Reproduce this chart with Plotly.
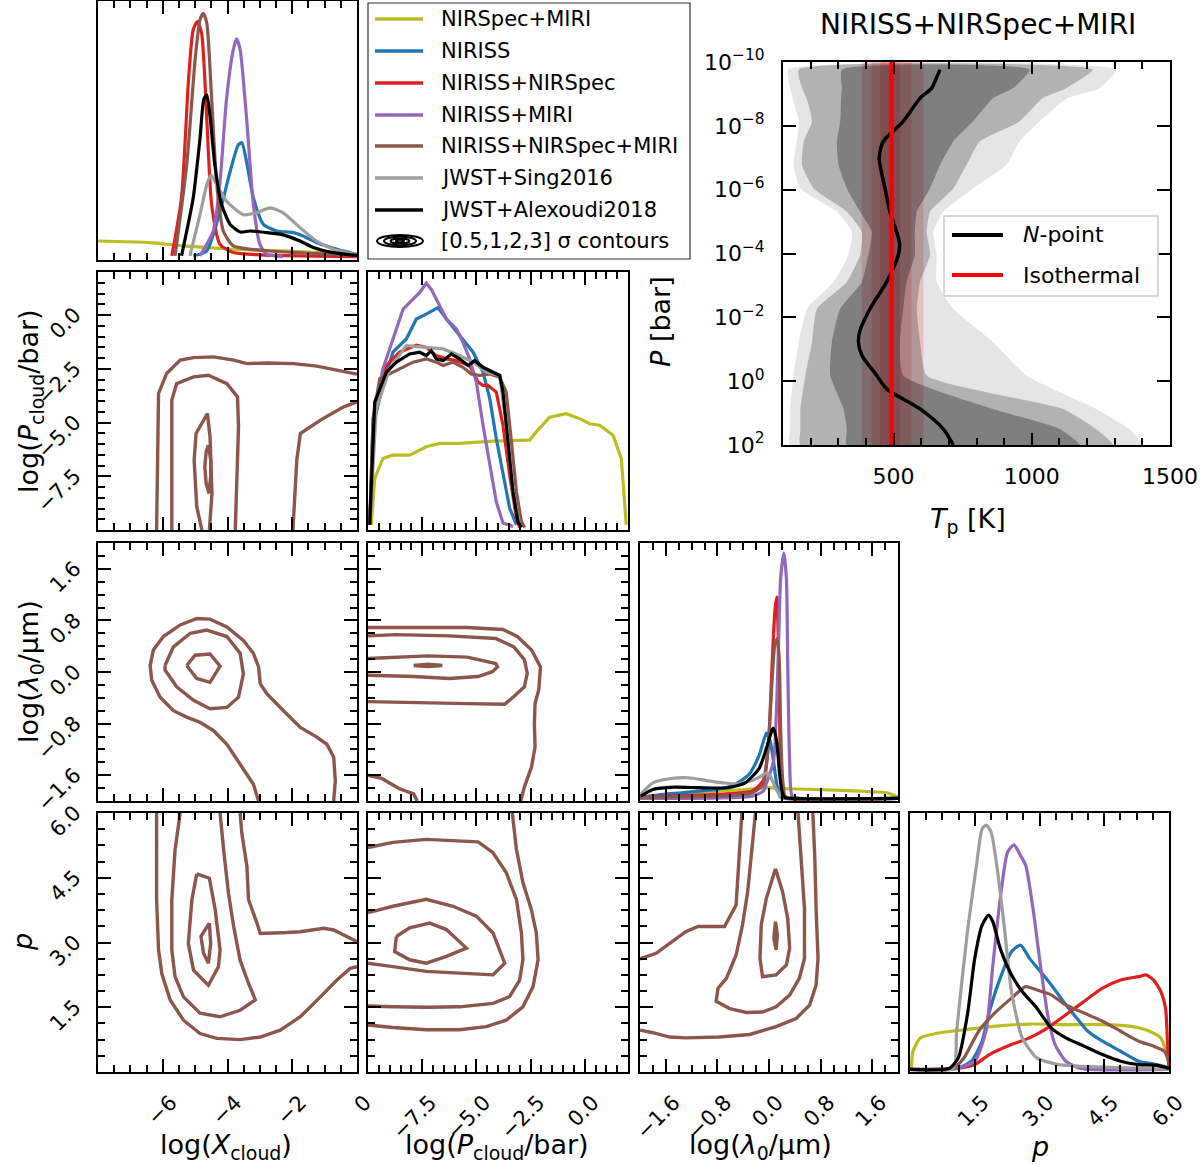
import numpy as np
import plotly.graph_objects as go

W, H = 1200, 1165
FONT = "DejaVu Sans"

SERIES = ["NIRSpec+MIRI", "NIRISS", "NIRISS+NIRSpec", "NIRISS+MIRI",
          "NIRISS+NIRSpec+MIRI", "JWST+Sing2016", "JWST+Alexoudi2018"]
COLORS = ["#bcbd22", "#1f77b4", "#e0201f", "#9467bd", "#8c564b", "#9e9e9e", "#000000"]
BROWN = "#8c564b"

# ---------------- 1D marginal posteriors (height relative to panel height) -------------
HIST_XCLOUD = {
    "NIRSpec+MIRI": ([-8.0, -6.39, -5.36, -3.82, -1.76, 0.0],
                     [0.064, 0.058, 0.045, 0.032, 0.023, 0.010]),
    "NIRISS": ([-5.06, -4.64, -4.23, -3.92, -3.67, -3.56, -3.41, -3.20, -2.89, -2.48, -1.97, -1.66, -1.25, -0.73, 0.0],
               [0.006, 0.026, 0.180, 0.335, 0.438, 0.448, 0.373, 0.232, 0.129, 0.103, 0.097, 0.084, 0.058, 0.036, 0.012]),
    "NIRISS+NIRSpec": ([-5.72, -5.42, -5.21, -5.06, -4.93, -4.80, -4.64, -4.49, -4.23, -3.82, -3.00, -1.76, 0.0],
                       [0.006, 0.232, 0.682, 0.888, 0.920, 0.875, 0.541, 0.206, 0.051, 0.019, 0.010, 0.006, 0.003]),
    "NIRISS+MIRI": ([-4.85, -4.44, -4.23, -4.03, -3.82, -3.72, -3.61, -3.41, -3.20, -3.00, -2.79, -2.28],
                    [0.006, 0.103, 0.296, 0.618, 0.811, 0.852, 0.811, 0.541, 0.206, 0.051, 0.013, 0.003]),
    "NIRISS+NIRSpec+MIRI": ([-5.62, -5.26, -5.00, -4.85, -4.75, -4.64, -4.49, -4.33, -4.13, -3.82, -2.79, -1.25, 0.0],
                            [0.006, 0.360, 0.772, 0.927, 0.952, 0.914, 0.618, 0.283, 0.103, 0.045, 0.026, 0.015, 0.008]),
    "JWST+Sing2016": ([-5.16, -4.85, -4.64, -4.51, -4.33, -4.03, -3.51, -3.10, -2.69, -2.28, -1.76, -1.25, -0.73, 0.0],
                      [0.006, 0.167, 0.283, 0.322, 0.283, 0.219, 0.167, 0.174, 0.193, 0.174, 0.116, 0.064, 0.032, 0.010]),
    "JWST+Alexoudi2018": ([-5.42, -5.06, -4.85, -4.73, -4.64, -4.54, -4.39, -4.18, -3.92, -3.61, -3.31, -2.79, -2.28, -1.76, -1.35, -0.73, 0.0],
                          [0.006, 0.232, 0.463, 0.618, 0.633, 0.553, 0.360, 0.206, 0.129, 0.099, 0.103, 0.097, 0.088, 0.064, 0.039, 0.019, 0.008]),
}

HIST_PCLOUD = {
    "NIRSpec+MIRI": ([-9.85, -9.69, -9.31, -8.85, -8.08, -7.31, -6.69, -5.77, -4.23, -2.54, -2.23, -1.62, -0.85, -0.23, 0.23, 0.69, 1.31, 1.69, 1.92],
                     [0.010, 0.192, 0.270, 0.283, 0.283, 0.316, 0.329, 0.329, 0.338, 0.342, 0.374, 0.432, 0.445, 0.426, 0.406, 0.400, 0.361, 0.270, 0.010]),
    "NIRISS": ([-9.92, -9.77, -9.31, -8.85, -8.23, -7.77, -7.31, -6.77, -6.38, -5.77, -5.15, -4.69, -4.38, -4.08, -3.77, -3.46, -3.15],
               [0.010, 0.400, 0.556, 0.686, 0.738, 0.816, 0.835, 0.861, 0.816, 0.751, 0.686, 0.608, 0.504, 0.348, 0.205, 0.075, 0.010]),
    "NIRISS+NIRSpec": ([-9.92, -9.69, -9.15, -8.54, -7.77, -7.31, -6.85, -6.38, -5.92, -5.31, -4.92, -4.69, -4.46, -4.15, -4.08, -3.77, -3.46, -3.15, -3.0],
                       [0.010, 0.465, 0.634, 0.686, 0.714, 0.705, 0.673, 0.660, 0.653, 0.634, 0.569, 0.556, 0.556, 0.536, 0.530, 0.400, 0.205, 0.036, 0.0]),
    "NIRISS+MIRI": ([-9.92, -9.69, -9.31, -8.38, -7.92, -7.62, -7.31, -7.08, -6.69, -6.38, -5.92, -5.62, -5.31, -5.0, -4.69, -4.38, -4.08, -3.77, -3.31],
                    [0.010, 0.465, 0.621, 0.855, 0.894, 0.919, 0.956, 0.932, 0.868, 0.816, 0.777, 0.725, 0.660, 0.569, 0.400, 0.244, 0.101, 0.017, 0.004]),
    "NIRISS+NIRSpec+MIRI": ([-9.92, -9.77, -9.46, -9.0, -8.54, -7.92, -7.31, -6.85, -6.54, -6.08, -5.62, -5.23, -4.85, -4.38, -3.92, -3.62, -3.38, -3.15, -2.92, -2.77],
                            [0.010, 0.426, 0.582, 0.601, 0.621, 0.647, 0.660, 0.647, 0.634, 0.647, 0.627, 0.601, 0.595, 0.601, 0.588, 0.530, 0.335, 0.140, 0.023, 0.0]),
    "JWST+Sing2016": ([-9.92, -9.62, -9.0, -8.23, -7.31, -6.54, -5.77, -5.15, -4.54, -3.92, -3.62, -3.31, -3.0],
                      [0.010, 0.465, 0.621, 0.712, 0.705, 0.699, 0.673, 0.647, 0.608, 0.595, 0.400, 0.140, 0.010]),
    "JWST+Alexoudi2018": ([-9.92, -9.69, -9.15, -8.69, -8.08, -7.62, -7.31, -7.08, -6.85, -6.54, -6.15, -5.77, -5.38, -5.08, -4.69, -4.23, -3.92, -3.77, -3.54, -3.31, -3.08, -2.92],
                          [0.010, 0.491, 0.608, 0.647, 0.679, 0.686, 0.673, 0.692, 0.660, 0.653, 0.679, 0.660, 0.634, 0.653, 0.627, 0.608, 0.595, 0.530, 0.335, 0.140, 0.023, 0.0]),
}

HIST_LAMBDA = {
    "NIRSpec+MIRI": ([-1.99, -1.36, -0.81, -0.37, -0.04, 0.29, 0.84, 1.39, 1.83, 1.97, 2.0],
                     [0.005, 0.016, 0.029, 0.035, 0.042, 0.038, 0.034, 0.029, 0.022, 0.009, 0.005]),
    "NIRISS": ([-1.99, -1.63, -1.36, -1.08, -0.81, -0.53, -0.31, -0.15, -0.04, 0.02, 0.07, 0.13, 0.18, 0.25, 2.0],
               [0.005, 0.016, 0.022, 0.029, 0.035, 0.055, 0.094, 0.171, 0.256, 0.223, 0.145, 0.042, 0.005, 0.0, 0.0]),
    "NIRISS+NIRSpec": ([-2.0, -0.81, -0.26, -0.09, -0.01, 0.05, 0.09, 0.12, 0.14, 0.16, 0.18, 0.23, 0.30, 2.0],
                       [0.005, 0.016, 0.029, 0.070, 0.210, 0.535, 0.730, 0.788, 0.665, 0.405, 0.145, 0.016, 0.0, 0.0]),
    "NIRISS+MIRI": ([-2.0, -0.26, -0.09, -0.04, 0.07, 0.14, 0.18, 0.23, 0.27, 0.29, 0.32, 0.36, 0.50, 2.0],
                    [0.0, 0.009, 0.029, 0.060, 0.145, 0.535, 0.860, 0.961, 0.860, 0.535, 0.145, 0.009, 0.0, 0.0]),
    "NIRISS+NIRSpec+MIRI": ([-2.0, -0.81, -0.26, -0.09, -0.01, 0.05, 0.09, 0.13, 0.16, 0.18, 0.21, 0.25, 0.35, 2.0],
                            [0.005, 0.009, 0.022, 0.055, 0.210, 0.470, 0.600, 0.626, 0.535, 0.275, 0.081, 0.009, 0.0, 0.0]),
    "JWST+Sing2016": ([-1.99, -1.80, -1.52, -1.25, -0.97, -0.70, -0.48, -0.26, -0.12, -0.04, 0.02, 0.10, 0.16, 0.21, 0.30, 2.0],
                      [0.016, 0.061, 0.078, 0.081, 0.070, 0.061, 0.057, 0.070, 0.087, 0.100, 0.087, 0.042, 0.016, 0.005, 0.0, 0.0]),
    "JWST+Alexoudi2018": ([-1.99, -1.80, -1.47, -1.08, -0.64, -0.37, -0.15, -0.04, 0.05, 0.07, 0.12, 0.16, 0.20, 0.24, 0.35, 2.0],
                          [0.009, 0.035, 0.044, 0.042, 0.042, 0.061, 0.119, 0.197, 0.269, 0.275, 0.223, 0.106, 0.029, 0.005, 0.0, 0.0]),
}

HIST_P = {
    "NIRSpec+MIRI": ([0.03, 0.07, 0.24, 0.66, 1.08, 1.92, 2.77, 3.61, 4.46, 5.13, 5.55, 5.81, 5.93, 6.0],
                     [0.004, 0.071, 0.123, 0.142, 0.151, 0.168, 0.177, 0.175, 0.175, 0.168, 0.149, 0.123, 0.071, 0.019]),
    "NIRISS": ([0.0, 1.08, 1.42, 1.67, 1.84, 2.09, 2.35, 2.56, 2.77, 3.02, 3.27, 3.61, 3.86, 4.12, 4.46, 4.88, 5.30, 5.72, 6.0],
               [0.0, 0.004, 0.032, 0.110, 0.226, 0.356, 0.459, 0.485, 0.433, 0.382, 0.330, 0.252, 0.201, 0.149, 0.110, 0.071, 0.032, 0.019, 0.006]),
    "NIRISS+NIRSpec": ([0.0, 1.08, 1.50, 1.84, 2.35, 2.77, 3.19, 3.61, 4.03, 4.46, 4.88, 5.30, 5.47, 5.64, 5.81, 5.92, 5.97, 6.0],
                       [0.0, 0.004, 0.019, 0.058, 0.097, 0.123, 0.162, 0.213, 0.265, 0.317, 0.349, 0.362, 0.369, 0.349, 0.304, 0.239, 0.084, 0.004]),
    "NIRISS+MIRI": ([0.0, 1.08, 1.50, 1.76, 1.92, 2.09, 2.26, 2.41, 2.56, 2.68, 2.85, 3.02, 3.19, 3.36, 3.61, 3.95, 6.0],
                    [0.0, 0.004, 0.032, 0.149, 0.408, 0.666, 0.847, 0.876, 0.834, 0.796, 0.627, 0.408, 0.213, 0.097, 0.032, 0.004, 0.0]),
    "NIRISS+NIRSpec+MIRI": ([0.0, 0.99, 1.25, 1.59, 1.92, 2.35, 2.68, 2.94, 3.27, 3.61, 4.03, 4.46, 4.88, 5.30, 5.64, 5.89, 6.0],
                            [0.0, 0.004, 0.045, 0.149, 0.213, 0.278, 0.323, 0.310, 0.291, 0.252, 0.220, 0.188, 0.149, 0.110, 0.091, 0.071, 0.032]),
    "JWST+Sing2016": ([0.0, 1.0, 1.08, 1.33, 1.54, 1.67, 1.77, 1.88, 2.01, 2.18, 2.35, 2.60, 2.94, 3.44, 4.46, 6.0],
                      [0.0, 0.004, 0.149, 0.537, 0.796, 0.938, 0.953, 0.925, 0.796, 0.563, 0.304, 0.123, 0.045, 0.019, 0.009, 0.0]),
    "JWST+Alexoudi2018": ([0.0, 0.91, 1.12, 1.33, 1.50, 1.67, 1.82, 1.92, 2.09, 2.35, 2.60, 2.94, 3.27, 3.61, 4.03, 4.46, 4.88, 5.30, 5.72, 6.0],
                          [0.0, 0.004, 0.045, 0.213, 0.433, 0.563, 0.602, 0.576, 0.472, 0.369, 0.304, 0.239, 0.162, 0.123, 0.091, 0.058, 0.032, 0.019, 0.016, 0.004]),
}

# ---------------- 2D contours ([0.5,1,2,3] sigma) of NIRISS+NIRSpec+MIRI ----------------
CONT_X_PC = [
    ([-6.19, -6.13, -5.88, -5.46, -5.05, -4.43, -3.81, -3.40, -2.78, -1.96, -1.24, -0.72, 0.0],
     [-10.0, -3.65, -2.72, -2.10, -1.98, -1.95, -2.10, -2.26, -2.23, -2.26, -2.38, -2.54, -2.75]),
    ([0.0, -0.41, -1.13, -1.75, -1.86, -1.91, -1.98],
     [-4.04, -4.27, -4.89, -5.51, -6.75, -8.30, -10.0]),
    ([-5.72, -5.72, -5.57, -5.05, -4.59, -4.02, -3.69, -3.66, -3.76],
     [-10.0, -3.96, -3.19, -2.88, -2.80, -3.19, -3.81, -5.20, -10.0]),
    ([-4.79, -4.95, -5.03, -4.97, -4.62, -4.54, -4.48, -4.56],
     [-10.0, -8.92, -6.75, -5.51, -4.58, -5.66, -8.30, -10.0]),
    ([-4.59, -4.52, -4.52, -4.57, -4.66, -4.70, -4.66, -4.59],
     [-6.05, -6.75, -7.52, -8.30, -7.83, -7.06, -6.36, -6.05]),
]
CONT_X_LAM = [
    ([-3.04, -3.20, -3.61, -4.02, -4.43, -4.85, -5.26, -5.67, -6.08, -6.34, -6.39, -6.29, -5.98, -5.46, -4.95,
      -4.54, -4.02, -3.51, -3.20, -3.04, -2.99, -2.78, -2.27, -1.75, -1.24, -0.93, -0.72, -0.67, -0.72],
     [-2.0, -1.74, -1.43, -1.12, -0.91, -0.78, -0.70, -0.60, -0.39, -0.13, 0.10, 0.34, 0.55, 0.73, 0.83,
      0.82, 0.70, 0.49, 0.29, 0.08, -0.18, -0.34, -0.60, -0.86, -1.01, -1.12, -1.32, -1.69, -2.0]),
    ([-5.93, -5.67, -5.15, -4.64, -4.02, -3.61, -3.51, -3.66, -4.02, -4.54, -5.05, -5.57, -5.93, -5.93],
     [0.10, 0.39, 0.60, 0.65, 0.55, 0.29, -0.03, -0.39, -0.55, -0.57, -0.44, -0.23, 0.03, 0.10]),
    ([-5.26, -5.0, -4.54, -4.23, -4.54, -4.95, -5.26],
     [0.10, 0.26, 0.28, 0.09, -0.16, -0.10, 0.10]),
]
CONT_PC_LAM = [
    ([-10.0, -8.71, -7.07, -5.42, -3.77, -3.11, -2.45, -2.04, -2.12, -2.29, -2.32, -2.29, -2.45, -2.78, -2.95],
     [0.69, 0.69, 0.69, 0.69, 0.66, 0.55, 0.34, 0.08, -0.28, -0.49, -0.80, -1.16, -1.47, -1.78, -2.0]),
    ([-10.0, -9.37, -8.55, -7.89, -7.73],
     [-1.60, -1.65, -1.81, -1.89, -2.0]),
    ([-10.0, -8.71, -6.24, -4.10, -3.27, -2.78, -2.65, -2.78, -3.27, -3.69, -5.42, -7.07, -8.71, -10.0],
     [0.56, 0.58, 0.56, 0.52, 0.39, 0.19, -0.02, -0.23, -0.38, -0.50, -0.49, -0.48, -0.46, -0.46]),
    ([-10.0, -8.71, -7.23, -5.42, -4.10, -4.02, -4.26, -4.92, -6.24, -7.89, -10.0],
     [0.21, 0.23, 0.25, 0.23, 0.13, 0.08, 0.005, -0.07, -0.10, -0.07, -0.05]),
    ([-7.89, -7.23, -6.57, -7.23, -7.89],
     [0.10, 0.12, 0.10, 0.085, 0.10]),
]
CONT_X_P = [
    ([-6.19, -6.19, -6.13, -6.03, -5.77, -5.36, -4.85, -4.33, -3.61, -2.99, -2.37, -1.75, -1.13, -0.62, -0.21, 0.0],
     [6.0, 3.99, 2.83, 2.28, 1.67, 1.20, 0.89, 0.78, 0.75, 0.81, 0.97, 1.28, 1.74, 2.13, 2.40, 2.44]),
    ([0.0, -0.31, -0.72, -1.03, -1.75, -2.16, -2.99, -3.09, -3.35, -3.40, -3.56, -3.61],
     [3.02, 3.14, 3.29, 3.33, 3.25, 3.23, 3.21, 3.45, 3.99, 4.76, 5.54, 6.0]),
    ([-5.46, -5.62, -5.72, -5.72, -5.62, -5.36, -4.85, -4.23, -3.61, -3.14, -3.35, -3.61, -3.81, -3.97, -4.12, -4.23],
     [6.0, 5.15, 3.99, 2.83, 2.21, 1.74, 1.36, 1.28, 1.43, 1.67, 2.05, 2.59, 3.37, 4.14, 5.15, 6.0]),
    ([-4.95, -4.56, -4.38, -4.23, -4.28, -4.59, -5.05, -5.21, -5.10, -4.95],
     [4.59, 4.49, 3.76, 2.83, 2.44, 2.01, 2.36, 2.98, 3.99, 4.59]),
    ([-4.56, -4.52, -4.59, -4.74, -4.82, -4.56],
     [3.45, 2.98, 2.52, 2.75, 3.14, 3.45]),
]
CONT_PC_P = [
    ([-3.34, -3.15, -2.85, -2.46, -2.23, -2.15, -2.38, -2.85, -3.62, -4.54, -5.77, -7.31, -8.85, -10.0],
     [6.0, 5.16, 4.39, 3.76, 3.22, 2.60, 1.98, 1.51, 1.20, 1.05, 0.98, 0.98, 1.03, 1.09]),
    ([-10.0, -8.85, -7.31, -5.77, -4.92, -4.23, -3.62, -3.15, -2.92, -2.85, -3.0, -3.46, -4.23, -5.77, -7.31, -8.85, -10.0],
     [5.20, 5.32, 5.39, 5.36, 5.33, 5.08, 4.62, 4.0, 3.22, 2.60, 2.13, 1.75, 1.59, 1.51, 1.50, 1.51, 1.53]),
    ([-10.0, -8.85, -7.31, -6.08, -5.0, -4.23, -3.69, -4.23, -5.77, -7.31, -8.85, -10.0],
     [3.69, 3.84, 4.0, 3.84, 3.61, 3.22, 2.52, 2.25, 2.29, 2.33, 2.44, 2.52]),
    ([-8.69, -8.08, -7.15, -6.38, -5.46, -6.38, -7.31, -8.08, -8.77, -8.69],
     [3.14, 3.34, 3.45, 3.30, 2.87, 2.68, 2.52, 2.60, 2.79, 3.14]),
]
CONT_LAM_P = [
    ([-2.0, -1.75, -1.54, -1.29, -1.10, -0.69, -0.51, -0.48, -0.46, -0.42],
     [2.62, 2.75, 2.98, 3.25, 3.37, 3.37, 3.87, 4.57, 5.34, 6.0]),
    ([0.68, 0.71, 0.73, 0.76, 0.73, 0.63, 0.42, 0.11, -0.30, -0.77, -1.29, -1.54, -1.80, -2.0],
     [6.0, 4.96, 3.79, 2.63, 2.01, 1.55, 1.24, 1.05, 0.87, 0.81, 0.79, 0.81, 0.91, 0.97]),
    ([-0.21, -0.25, -0.33, -0.41, -0.51, -0.66, -0.79, -0.82, -0.61, -0.35, -0.10, 0.11, 0.32, 0.47, 0.55, 0.55, 0.50, 0.45],
     [6.0, 5.34, 4.18, 3.41, 2.71, 2.17, 1.94, 1.64, 1.47, 1.38, 1.39, 1.51, 1.78, 2.17, 2.63, 3.79, 4.96, 6.0]),
    ([0.10, 0.21, 0.29, 0.32, 0.27, 0.11, -0.10, -0.14, -0.12, -0.04, 0.10],
     [4.71, 4.18, 3.56, 2.87, 2.48, 2.25, 2.21, 2.63, 3.41, 4.03, 4.71]),
    ([0.10, 0.13, 0.11, 0.075, 0.10],
     [3.48, 3.17, 2.83, 3.10, 3.48]),
]

# ---------------- P-T profile (NIRISS+NIRSpec+MIRI) ----------------
TP_LOGP = [-9.76, -9.18, -8.87, -8.14, -7.51, -6.77, -6.04, -5.31, -4.68, -3.95, -3.11, -2.27, -1.23, -0.18, 0.87, 1.50, 2.0]
TP_3S_LO = [120, 126, 135, 157, 150, 138, 163, 295, 349, 337, 283, 187, 157, 138, 126, 126, 126]
TP_2S_LO = [157, 169, 185, 205, 175, 169, 211, 331, 385, 379, 331, 223, 205, 181, 163, 163, 163]
TP_1S_LO = [313, 313, 310, 307, 295, 301, 331, 379, 421, 409, 385, 307, 277, 271, 319, 331, 331]
TP_1S_HI = [992, 932, 860, 788, 716, 668, 632, 584, 577, 577, 547, 535, 523, 535, 860, 1101, 1173]
TP_2S_HI = [1221, 1125, 1040, 956, 812, 764, 716, 632, 620, 632, 596, 584, 596, 620, 1113, 1233, 1293]
TP_3S_HI = [1305, 1245, 1130, 1028, 956, 908, 788, 680, 644, 656, 656, 716, 860, 980, 1233, 1353, 1401]
NPOINT_LOGP = [-9.76, -9.5, -9.18, -8.87, -8.14, -7.51, -7.0, -6.77, -6.04, -5.31, -4.68, -4.3, -3.95, -3.11,
               -2.27, -1.6, -1.23, -0.81, -0.18, 0.24, 0.87, 1.50, 2.0]
NPOINT_T = [668, 655, 638, 596, 535, 463, 448, 451, 469, 487, 511, 522, 517, 475,
            415, 379, 373, 385, 439, 475, 596, 680, 716]
ISO_T = 493
ISO_BANDS = [(385, 608), (421, 565), (451, 523)]
P_TOP, P_BOTTOM = 1e-10, 1e2

# ---------------- axis definitions ----------------
VAR_RANGE = [[-8, 0], [-10, 2], [-2, 2], [0, 6]]
VAR_TICKS = [[-6, -4, -2, 0], [-7.5, -5.0, -2.5, 0.0], [-1.6, -0.8, 0.0, 0.8, 1.6], [1.5, 3.0, 4.5, 6.0]]
VAR_TEXT = [["−6", "−4", "−2", "0"], ["−7.5", "−5.0", "−2.5", "0.0"],
            ["−1.6", "−0.8", "0.0", "0.8", "1.6"], ["1.5", "3.0", "4.5", "6.0"]]
VAR_MINOR = [0.5, 0.5, 0.2, 0.375]
HISTS = [HIST_XCLOUD, HIST_PCLOUD, HIST_LAMBDA, HIST_P]
CONTOURS = {(1, 0): CONT_X_PC, (2, 0): CONT_X_LAM, (2, 1): CONT_PC_LAM,
            (3, 0): CONT_X_P, (3, 1): CONT_PC_P, (3, 2): CONT_LAM_P}

# panel geometry (pixels)
COLS = [(98, 357), (368, 628), (640, 898), (910, 1169)]
ROWS = [(1, 260), (272, 530), (543, 801), (813, 1072)]
TP_X, TP_Y = (783, 1170), (62, 445)


def fx(px):
    return px / W


def fy(py):
    return 1 - py / H


TICKFONT = dict(family=FONT, size=21, color="black")
BASE = dict(showline=True, linewidth=2, linecolor="black", showgrid=False, zeroline=False,
            tickcolor="black", tickwidth=2, tickfont=TICKFONT, automargin=False)


def var_axis(v, show_labels, is_x):
    d = dict(BASE)
    d.update(range=VAR_RANGE[v], tickmode="array", tickvals=VAR_TICKS[v], ticktext=VAR_TEXT[v],
             ticks="inside", ticklen=13, mirror="allticks", showticklabels=show_labels, tickangle=-45,
             ticklabelstandoff=8 if is_x else 17, ticklabelshift=8 if is_x else -3,
             minor=dict(tickmode="linear", tick0=0, dtick=VAR_MINOR[v], ticks="inside", ticklen=7,
                        tickwidth=1.5, tickcolor="black", showgrid=False))
    return d


layout = {}
traces = []
count = 0

for r in range(4):
    for c in range(r + 1):
        count += 1
        xk = "xaxis" if count == 1 else f"xaxis{count}"
        yk = "yaxis" if count == 1 else f"yaxis{count}"
        xn = "x" if count == 1 else f"x{count}"
        yn = "y" if count == 1 else f"y{count}"
        xa = var_axis(c, r == 3, True)
        xa.update(domain=[fx(COLS[c][0]), fx(COLS[c][1])], anchor=yn)
        if r == c:
            ya = dict(BASE)
            ya.update(range=[-0.01, 1.0], ticks="", showticklabels=False, mirror=True)
        else:
            ya = var_axis(r, c == 0, False)
        ya.update(domain=[fy(ROWS[r][1]), fy(ROWS[r][0])], anchor=xn)
        layout[xk] = xa
        layout[yk] = ya
        if r == c:
            hist = HISTS[c]
            for name, col in zip(SERIES, COLORS):
                xs, ys = hist[name]
                traces.append(go.Scatter(x=xs, y=ys, mode="lines", xaxis=xn, yaxis=yn,
                                         line=dict(color=col, width=3.2,
                                                   shape="linear" if c == 1 else "spline",
                                                   smoothing=0.6),
                                         name=name, showlegend=False, hoverinfo="skip"))
        else:
            for xs, ys in CONTOURS[(r, c)]:
                traces.append(go.Scatter(x=xs, y=ys, mode="lines", xaxis=xn, yaxis=yn,
                                         line=dict(color=BROWN, width=3.4),
                                         showlegend=False, hoverinfo="skip"))

# ---------------- P-T panel ----------------
count += 1
xn, yn = f"x{count}", f"y{count}"
layout[f"xaxis{count}"] = dict(BASE, domain=[fx(TP_X[0]), fx(TP_X[1])], anchor=yn, range=[100, 1500],
                               tickmode="array", tickvals=[500, 1000, 1500], ticktext=["500", "1000", "1500"],
                               ticks="inside", ticklen=12, mirror="allticks", tickangle=0,
                               tickfont=dict(family=FONT, size=22, color="black"), ticklabelstandoff=11,
                               minor=dict(tickmode="linear", tick0=0, dtick=100, ticks="inside", ticklen=7,
                                          tickwidth=1.5, tickcolor="black", showgrid=False))
exps = list(range(-10, 3, 2))
layout[f"yaxis{count}"] = dict(BASE, domain=[fy(TP_Y[1]), fy(TP_Y[0])], anchor=xn, type="log",
                               range=[2, -10], tickmode="array", tickvals=[10.0 ** e for e in exps],
                               ticktext=[f"10<sup>{'−' if e < 0 else ''}{abs(e)}</sup>" for e in exps],
                               ticks="inside", ticklen=13, mirror="allticks", tickangle=0,
                               tickfont=dict(family=FONT, size=22, color="black"), ticklabelstandoff=12)

# isothermal bands (drawn first, translucent red)
for lo, hi in ISO_BANDS:
    traces.append(go.Scatter(x=[lo, hi, hi, lo, lo], y=[P_TOP, P_TOP, P_BOTTOM, P_BOTTOM, P_TOP],
                             mode="lines", fill="toself", fillcolor="rgba(255,0,0,0.15)",
                             line=dict(width=0), xaxis=xn, yaxis=yn, showlegend=False, hoverinfo="skip"))
# N-point bands (translucent black)
P = [10.0 ** v for v in TP_LOGP]
for lo, hi, a in [(TP_3S_LO, TP_3S_HI, 0.10), (TP_2S_LO, TP_2S_HI, 0.22), (TP_1S_LO, TP_1S_HI, 0.286)]:
    traces.append(go.Scatter(x=list(lo) + list(hi)[::-1] + [lo[0]], y=P + P[::-1] + [P[0]],
                             mode="lines", fill="toself", fillcolor=f"rgba(0,0,0,{a})",
                             line=dict(width=0, shape="spline", smoothing=0.5), xaxis=xn, yaxis=yn,
                             showlegend=False, hoverinfo="skip"))
traces.append(go.Scatter(x=NPOINT_T, y=[10.0 ** v for v in NPOINT_LOGP], mode="lines",
                         line=dict(color="black", width=3.5, shape="spline", smoothing=0.8),
                         xaxis=xn, yaxis=yn, showlegend=False, hoverinfo="skip"))
traces.append(go.Scatter(x=[ISO_T, ISO_T], y=[P_TOP, P_BOTTOM], mode="lines",
                         line=dict(color="#ff0000", width=4.5), xaxis=xn, yaxis=yn,
                         showlegend=False, hoverinfo="skip"))

fig = go.Figure(data=traces)

shapes = []
annotations = []


def ann(x, y, text, size=26, angle=0, xanchor="center", yanchor="middle", font=FONT):
    annotations.append(dict(x=fx(x), y=fy(y), xref="paper", yref="paper", text=text, showarrow=False,
                            textangle=angle, xanchor=xanchor, yanchor=yanchor,
                            font=dict(family=font, size=size, color="black")))


# corner legend
shapes.append(dict(type="rect", xref="paper", yref="paper", x0=fx(368), x1=fx(690), y0=fy(259), y1=fy(3),
                   line=dict(color="#333333", width=1.2), fillcolor="white", layer="above"))
LEG_Y = [19, 51, 83, 115, 146, 178, 210]
for yy, name, col in zip(LEG_Y, SERIES, COLORS):
    shapes.append(dict(type="line", xref="paper", yref="paper", x0=fx(375), x1=fx(423), y0=fy(yy), y1=fy(yy),
                       line=dict(color=col, width=3.5), layer="above"))
    ann(439, yy, name, size=21, xanchor="left")
for hw, hh in [(23, 6), (16, 4.2), (9.5, 2.6), (4, 1.2)]:
    shapes.append(dict(type="circle", xref="paper", yref="paper", x0=fx(400 - hw), x1=fx(400 + hw),
                       y0=fy(241 + hh), y1=fy(241 - hh), line=dict(color="black", width=2), layer="above"))
ann(439, 241, "[0.5,1,2,3] σ contours", size=21, xanchor="left")

# P-T legend
shapes.append(dict(type="rect", xref="paper", yref="paper", x0=fx(944), x1=fx(1158), y0=fy(296), y1=fy(216),
                   line=dict(color="#cccccc", width=1.5), fillcolor="rgba(255,255,255,0.8)", layer="above"))
shapes.append(dict(type="line", xref="paper", yref="paper", x0=fx(952), x1=fx(1003), y0=fy(235), y1=fy(235),
                   line=dict(color="black", width=4), layer="above"))
shapes.append(dict(type="line", xref="paper", yref="paper", x0=fx(952), x1=fx(1003), y0=fy(275), y1=fy(275),
                   line=dict(color="#ff0000", width=4), layer="above"))
ann(1021, 235, "<i>N</i>-point", size=22, xanchor="left")
ann(1021, 275, "Isothermal", size=22, xanchor="left")

# titles and axis labels
ann(978, 25, "NIRISS+NIRSpec+MIRI", size=28)
ann(968, 520, "<i>T</i><sub>p</sub> [K]", size=27)
ann(660, 322, "<i>P</i> [bar]", size=27, angle=-90)
ann(226, 1146, "log(<i>X</i><sub>cloud</sub>)", size=27)
ann(497, 1146, "log(<i>P</i><sub>cloud</sub>/bar)", size=27)
ann(760, 1146, "log(<i>λ</i><sub>0</sub>/µm)", size=27)
ann(1040, 1146, "<i>p</i>", size=27)
ann(30, 401, "log(<i>P</i><sub>cloud</sub>/bar)", size=27, angle=-90)
ann(30, 672, "log(<i>λ</i><sub>0</sub>/µm)", size=27, angle=-90)
ann(22, 942, "<i>p</i>", size=27, angle=-90)

fig.update_layout(width=W, height=H, margin=dict(l=0, r=0, t=0, b=0, autoexpand=False), paper_bgcolor="white",
                  plot_bgcolor="rgba(0,0,0,0)", showlegend=False, shapes=shapes, annotations=annotations,
                  font=dict(family=FONT, color="black"), **layout)
fig.write_html("out.html")
